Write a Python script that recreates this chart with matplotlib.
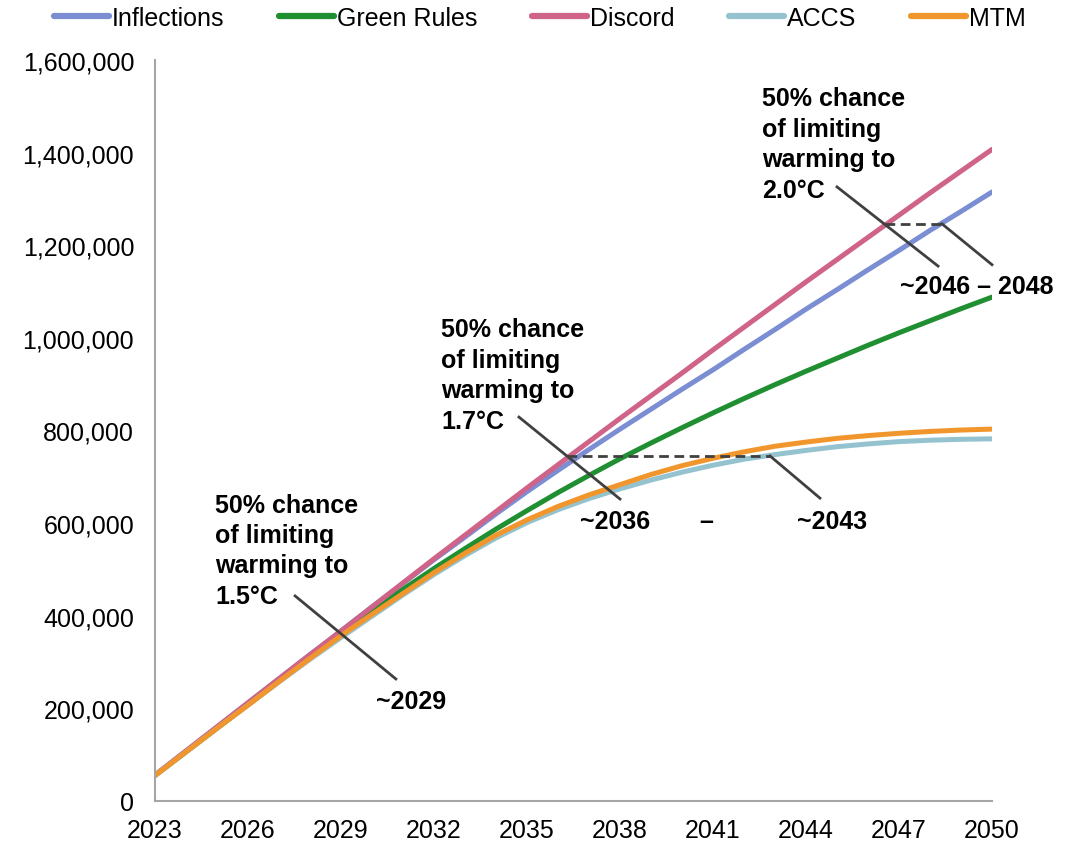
import matplotlib
matplotlib.use("Agg")
import matplotlib.pyplot as plt
from matplotlib.ticker import FuncFormatter
import numpy as np

plt.rcParams['font.family'] = ['Liberation Sans', 'DejaVu Sans']

years = list(range(2023, 2051))

# cumulative emissions, thousands
inflections = [56, 108, 160, 212, 264, 316, 367, 419, 470, 521, 570, 620, 668, 714,
               759, 803, 846, 889, 931, 975, 1018, 1062, 1104, 1147, 1189, 1232, 1273, 1315]
green_rules = [55, 106, 157, 208, 259, 310, 361, 410, 457, 502, 545, 587, 627, 666,
               703, 739, 773, 806, 838, 869, 899, 928, 956, 984, 1011, 1037, 1063, 1088]
discord = [56, 108, 160, 212, 264, 316, 367, 419, 471, 523, 574, 625, 676, 726,
           776, 826, 875, 924, 974, 1023, 1072, 1121, 1169, 1217, 1265, 1313, 1360, 1407]
accs = [55, 106, 157, 207, 257, 306, 353, 399, 445, 489, 530, 568, 601, 629,
        653, 674, 693, 710, 725, 738, 748, 757, 765, 771, 776, 779, 781, 782]
mtm = [55, 106, 157, 207, 258, 308, 357, 403, 448, 493, 535, 574, 607, 636,
       661, 683, 705, 724, 740, 754, 766, 775, 783, 789, 794, 798, 801, 803]

series = [
    ("Inflections", inflections, "#7b8dd3"),
    ("Green Rules", green_rules, "#1f8f31"),
    ("Discord", discord, "#cf6388"),
    ("ACCS", accs, "#94c3cf"),
    ("MTM", mtm, "#f1962c"),
]

fig = plt.figure(figsize=(10.71, 8.45), dpi=100)
ax = fig.add_axes([155 / 1071, 43 / 845, 837 / 1071, 741 / 845])

for name, vals, col in series:
    ax.plot(years, np.array(vals) * 1000, color=col, lw=3.6, label=name,
            solid_capstyle='round')

ax.set_xlim(2023, 2050)
ax.set_ylim(0, 1600000)
ax.set_xticks(range(2023, 2051, 3))
ax.set_yticks(range(0, 1600001, 200000))
ax.yaxis.set_major_formatter(FuncFormatter(lambda v, p: f"{int(v):,}"))
ax.tick_params(length=0, labelsize=18, colors='black')
ax.tick_params(axis='y', pad=15)
ax.tick_params(axis='x', pad=12)
for s in ['top', 'right']:
    ax.spines[s].set_visible(False)
for s in ['left', 'bottom']:
    ax.spines[s].set_color('#a6a6a6')
    ax.spines[s].set_linewidth(1.5)

leg = fig.legend(loc='center', bbox_to_anchor=(0.504, 0.978), ncol=5, frameon=False,
                 fontsize=18, handlelength=2.2, handletextpad=0.1, columnspacing=2.2)
for h in leg.get_lines():
    h.set_linewidth(4.5)

# annotations
lc = '#404040'
bold = dict(fontsize=18, fontweight='bold', color='black')

ax.text(2024.94, 666000, "50% chance\nof limiting\nwarming to\n1.5°C", ha='left', va='top',
        linespacing=1.34, **bold)
ax.plot([2027.52, 2030.77], [442800, 263500], color=lc, lw=2)
ax.text(2031.26, 216000, "~2029", ha='center', va='center', **bold)

ax.text(2032.23, 1044000, "50% chance\nof limiting\nwarming to\n1.7°C", ha='left', va='top',
        linespacing=1.34, **bold)
ax.plot([2036.29, 2042.84], [745000, 745000], color=lc, lw=2, ls=(0, (3.5, 2)))
ax.plot([2034.74, 2038.0], [829000, 652000], color=lc, lw=2)
ax.plot([2042.84, 2044.45], [745000, 654000], color=lc, lw=2)
ax.text(2037.84, 605000, "~2036", ha='center', va='center', **bold)
ax.text(2040.77, 605000, "–", ha='center', va='center', **bold)
ax.text(2044.84, 605000, "~2043", ha='center', va='center', **bold)

ax.text(2042.58, 1543000, "50% chance\nof limiting\nwarming to\n2.0°C", ha='left', va='top',
        linespacing=1.34, **bold)
ax.plot([2046.55, 2048.39], [1246000, 1246000], color=lc, lw=2, ls=(0, (3.5, 2)))
ax.plot([2045.0, 2048.26], [1326000, 1155000], color=lc, lw=2)
ax.plot([2048.39, 2050.0], [1246000, 1158000], color=lc, lw=2, clip_on=False)
ax.text(2049.5, 1112000, "~2046 – 2048", ha='center', va='center', **bold)

fig.savefig("out.png", dpi=100)
